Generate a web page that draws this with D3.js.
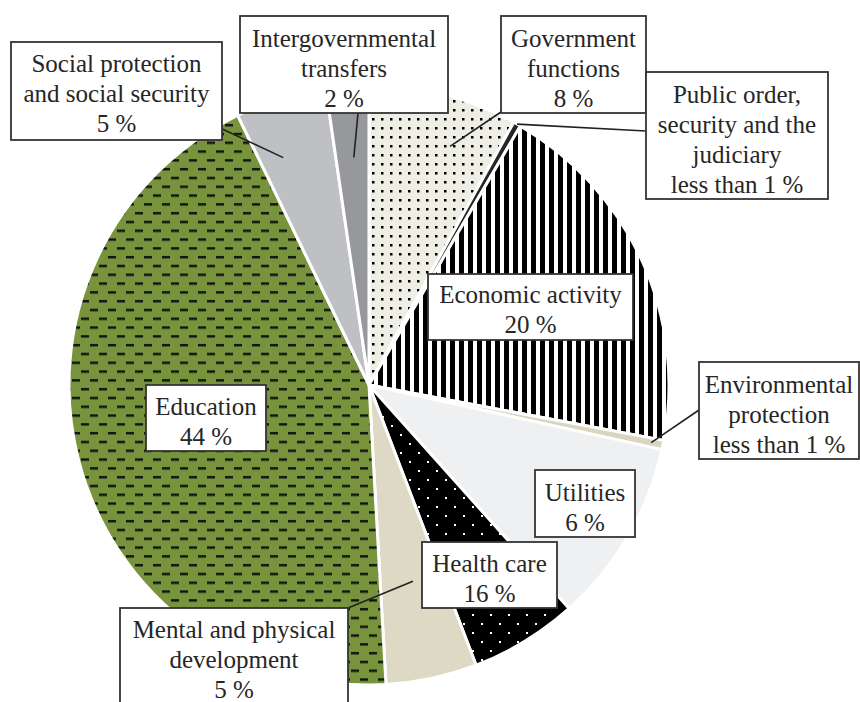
<!DOCTYPE html>
<html>
<head>
<meta charset="utf-8">
<script src="https://cdn.jsdelivr.net/npm/d3@7"></script>
<style>
  body { margin: 0; background: #fff; }
  svg { display: block; }
</style>
</head>
<body>
<div id="chart"></div>
<script>
// data, clockwise from 12 o'clock
const categories = [
    "Government functions",
    "Public order, security and the judiciary",
    "Economic activity",
    "Environmental protection",
    "Utilities",
    "Health care",
    "Mental and physical development",
    "Education",
    "Social protection and social security",
    "Intergovernmental transfers"
];
const shares = [8, 0.4, 19.5, 0.5, 9.9, 5.8, 4.9, 43.6, 4.9, 2.3];
const labelLines = [
    ["Government", "functions", "8 %"],
    ["Public order,", "security and the", "judiciary", "less than 1 %"],
    ["Economic activity", "20 %"],
    ["Environmental", "protection", "less than 1 %"],
    ["Utilities", "6 %"],
    ["Health care", "16 %"],
    ["Mental and physical", "development", "5 %"],
    ["Education", "44 %"],
    ["Social protection", "and social security", "5 %"],
    ["Intergovernmental", "transfers", "2 %"]
];

//dimensions
const w = 860, h = 702;
const cx = 369, cy = 385, r = 300;

// fills per slice (pattern ids or colours)
const fills = ["url(#dots)", "#262626", "url(#stripes)", "#d9d5bf", "#eff0f2",
    "url(#blackdots)", "#ddd9c4", "url(#dashes)", "#bfc0c4", "#97989c"];

// label boxes: x, y, width, height, first line centre, leader start and where it lands in the slice
const boxes = [
    { x: 501, y: 16, w: 145, h: 97, ty: 38, lead: [501, 112], t: 0.65, k: 0.84 },
    { x: 646, y: 72, w: 182, h: 127, ty: 94, lead: [646, 131], t: 0.5, k: 1.0 },
    { x: 428, y: 274, w: 205, h: 66, ty: 294, lead: null },
    { x: 699, y: 362, w: 160, h: 97, ty: 384, lead: [699, 410], t: 0.5, k: 0.96 },
    { x: 535, y: 470, w: 100, h: 67, ty: 492, lead: null },
    { x: 422, y: 542, w: 135, h: 66, ty: 563, lead: null },
    { x: 120, y: 608, w: 228, h: 110, ty: 629, lead: [348, 608], t: 0.47, k: 0.67 },
    { x: 146, y: 385, w: 120, h: 66, ty: 406, lead: null },
    { x: 11, y: 42, w: 211, h: 98, ty: 63, lead: [218, 127], t: 0.3, k: 0.81 },
    { x: 240, y: 16, w: 208, h: 97, ty: 38, lead: [358, 113], t: 0.54, k: 0.76 }
];

const svg = d3.select("#chart")
    .append("svg")
    .attr("width", w)
    .attr("height", h)
    .style("background", "#fff");

/* PATTERNS */
const defs = svg.append("defs");
// dotted beige
const p1 = defs.append("pattern").attr("id", "dots")
    .attr("patternUnits", "userSpaceOnUse").attr("width", 9).attr("height", 9);
p1.append("rect").attr("width", 9).attr("height", 9).attr("fill", "#eeeee5");
p1.append("rect").attr("x", 3).attr("y", 3).attr("width", 2.5).attr("height", 2.5).attr("fill", "#000");
// vertical stripes
const p2 = defs.append("pattern").attr("id", "stripes")
    .attr("patternUnits", "userSpaceOnUse").attr("width", 9).attr("height", 10);
p2.append("rect").attr("width", 9).attr("height", 10).attr("fill", "#fff");
p2.append("rect").attr("width", 5).attr("height", 10).attr("fill", "#000");
// black with white dots
const p3 = defs.append("pattern").attr("id", "blackdots")
    .attr("patternUnits", "userSpaceOnUse").attr("width", 18).attr("height", 18);
p3.append("rect").attr("width", 18).attr("height", 18).attr("fill", "#000");
p3.append("rect").attr("x", 4).attr("y", 4).attr("width", 2).attr("height", 2).attr("fill", "#fff");
p3.append("rect").attr("x", 13).attr("y", 13).attr("width", 2).attr("height", 2).attr("fill", "#fff");
// green with dashes
const p4 = defs.append("pattern").attr("id", "dashes")
    .attr("patternUnits", "userSpaceOnUse").attr("width", 18).attr("height", 17.6);
p4.append("rect").attr("width", 18).attr("height", 17.6).attr("fill", "#77933c");
p4.append("rect").attr("x", 0).attr("y", 3).attr("width", 8).attr("height", 2.4).attr("fill", "#111");
p4.append("rect").attr("x", 9).attr("y", 11.8).attr("width", 8).attr("height", 2.4).attr("fill", "#111");

/* PIE */
const pie = d3.pie().sort(null).value(d => d);
const arcs = pie(shares);
const arc = d3.arc().innerRadius(0).outerRadius(r);

const graph = svg.append("g")
    .attr("transform", `translate(${cx},${cy})`);

graph.selectAll("path")
    .data(arcs)
    .enter()
    .append("path")
    .attr("d", arc)
    .attr("fill", (d, i) => fills[i])
    .attr("stroke", "#fff")
    .attr("stroke-width", 3)
    .attr("stroke-linejoin", "round");

/* LEADERS AND LABELS */
function polar(a, rad) {
    return [cx + rad * Math.sin(a), cy - rad * Math.cos(a)];
}

const leaders = svg.append("g");
arcs.forEach((d, i) => {
    const b = boxes[i];
    if (!b.lead) return;
    const a = d.startAngle + b.t * (d.endAngle - d.startAngle);
    const [ex, ey] = polar(a, b.k * r);
    leaders.append("line")
        .attr("x1", b.lead[0]).attr("y1", b.lead[1])
        .attr("x2", ex).attr("y2", ey)
        .attr("stroke", "#222")
        .attr("stroke-width", 1.6);
});

const labels = svg.append("g");
categories.forEach((c, i) => {
    const b = boxes[i];
    const g = labels.append("g").attr("class", "label");
    g.append("rect")
        .attr("x", b.x).attr("y", b.y)
        .attr("width", b.w).attr("height", b.h)
        .attr("fill", "#fff")
        .attr("stroke", "#333")
        .attr("stroke-width", 1.8);
    labelLines[i].forEach((t, j) => {
        g.append("text")
            .text(t)
            .attr("x", b.x + b.w / 2)
            .attr("y", b.ty + j * 30)
            .attr("dy", "0.35em")
            .attr("text-anchor", "middle")
            .attr("font-family", "'Liberation Serif', 'Times New Roman', serif")
            .attr("font-size", "25px")
            .attr("fill", "#262626");
    });
});
</script>
</body>
</html>
